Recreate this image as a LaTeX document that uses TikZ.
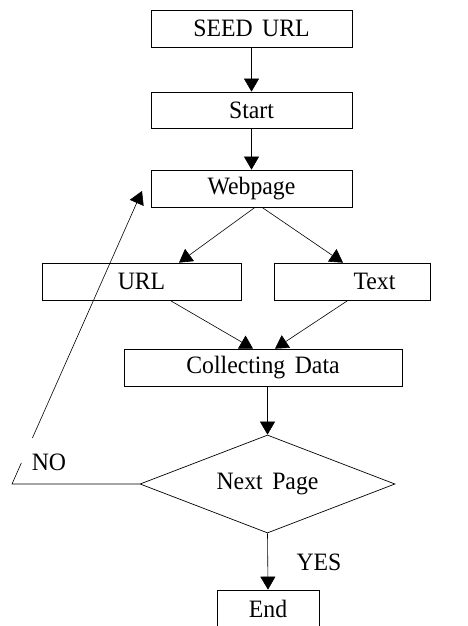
\documentclass[tikz,border=0pt]{standalone}
\usepackage{fontspec}
\setmainfont{Liberation Serif}[WordSpace=1.6, FakeStretch=0.95]
\usetikzlibrary{shapes.geometric,arrows.meta,calc}
\begin{document}
\begin{tikzpicture}[x=1pt,y=-1pt,
  every node/.style={font=\fontsize{25}{28}\selectfont, inner sep=0pt},
  box/.style={draw=black, line width=0.7pt, rectangle},
  conn/.style={draw=black, line width=0.6pt, -{Triangle[length=13pt,width=15pt]}},
  plain/.style={draw=black, line width=0.6pt}]
\useasboundingbox (0,0) rectangle (468,626);
\node[box, minimum width=201pt, minimum height=37pt] (seed) at (251.5,28.5) {SEED URL};
\node[box, minimum width=201pt, minimum height=36pt] (start) at (251.5,110) {Start};
\node[box, minimum width=201pt, minimum height=37pt] (web) at (251.5,188.5) {Webpage};
\node[box, minimum width=199pt, minimum height=37pt] (url) at (141.5,281.5) {URL};
\node[box, minimum width=156pt, minimum height=37pt] (text) at (352,281.5) {\hspace*{45pt}Text};
\node[box, minimum width=278pt, minimum height=37pt] (collect) at (263,367.5) {Collecting Data};
\node[draw=black, line width=0.7pt, diamond, shape aspect=2.6, minimum width=255pt, minimum height=98pt] (dia) at (267.5,484) {Next Page};
\node[box, minimum width=102pt, minimum height=38pt] (end) at (268,609) {End};
\node (yes) at (319,562) {YES};
\node (no) at (49,462) {NO};
\coordinate (c) at (12,484);
\coordinate (tip) at (142,191);

\draw[conn] (seed.south) -- (start.north);
\draw[conn] (start.south) -- (web.north);
\draw[conn] ([xshift=3.5pt]web.south) -- ([xshift=37.5pt]url.north);
\draw[conn] ([xshift=10.5pt]web.south) -- ([xshift=-9pt]text.north);
\draw[conn] ([xshift=28.5pt]url.south) -- ([xshift=-10pt]collect.north);
\draw[conn] ([xshift=-4pt]text.south) -- ([xshift=12pt]collect.north);
\draw[conn] (collect.south -| dia.north) -- (dia.north);
\draw[conn] (dia.south) -- (end.north);
\draw[plain] (dia.west) -- (c) -- ($(c)!0.072!(tip)$);
\draw[conn] ($(c)!0.157!(tip)$) -- (tip);
\end{tikzpicture}
\end{document}
